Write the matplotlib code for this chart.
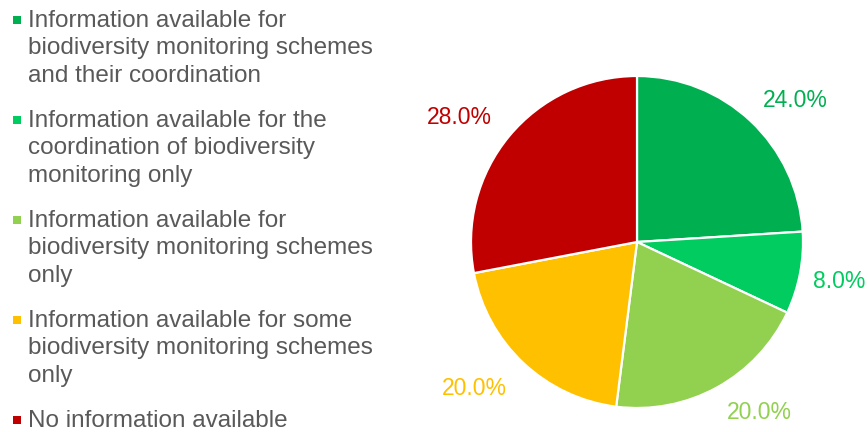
import matplotlib
matplotlib.use("Agg")
import matplotlib.pyplot as plt
from matplotlib.patches import Rectangle

# Chart data
categories = [
    "Information available for\nbiodiversity monitoring schemes\nand their coordination",
    "Information available for the\ncoordination of biodiversity\nmonitoring only",
    "Information available for\nbiodiversity monitoring schemes\nonly",
    "Information available for some\nbiodiversity monitoring schemes\nonly",
    "No information available",
]
shares = [24.0, 8.0, 20.0, 20.0, 28.0]
colors = ["#00B050", "#00CC5F", "#92D050", "#FFC000", "#C00000"]

# Where the percentage labels sit (axes data units, pie radius = 1)
label_xy = [(0.952, 0.855), (1.22, -0.24), (0.735, -1.03), (-0.982, -0.88), (-1.072, 0.747)]

plt.rcParams["font.family"] = ["Liberation Sans", "DejaVu Sans"]

W, H = 868, 432
fig = plt.figure(figsize=(W / 100, H / 100), dpi=100)
fig.patch.set_facecolor("white")

# Pie axes placed in pixel terms (centre ~ (637, 242), radius ~166)
cx, cy, r = 637, 242, 166
ax = fig.add_axes([(cx - r) / W, (H - cy - r) / H, 2 * r / W, 2 * r / H])
wedges, texts, autotexts = ax.pie(
    shares,
    colors=colors,
    startangle=90,
    counterclock=False,
    autopct="%.1f%%",
    pctdistance=1.27,
    wedgeprops={"edgecolor": "white", "linewidth": 1.6},
    textprops={"fontsize": 16.5},
)
for t, c, xy in zip(autotexts, colors, label_xy):
    t.set_color(c)
    t.set_position(xy)
ax.set_xlim(-1, 1)
ax.set_ylim(-1, 1)
ax.set_aspect("equal")

# Hand-made legend on the left
line_px = 29
gap_px = 13
top = 10
for label, c in zip(categories, colors):
    fig.text(28 / W, 1 - top / H, label, fontsize=17.5, color="#595959",
             va="top", ha="left", linespacing=1.31)
    fig.add_artist(Rectangle((13 / W, 1 - 24 / H - (top - 10) / H), 8 / W, 8 / H,
                             transform=fig.transFigure, facecolor=c,
                             edgecolor="none"))
    top += label.count("\n") * line_px + line_px + gap_px

fig.savefig("out.png", dpi=100)
